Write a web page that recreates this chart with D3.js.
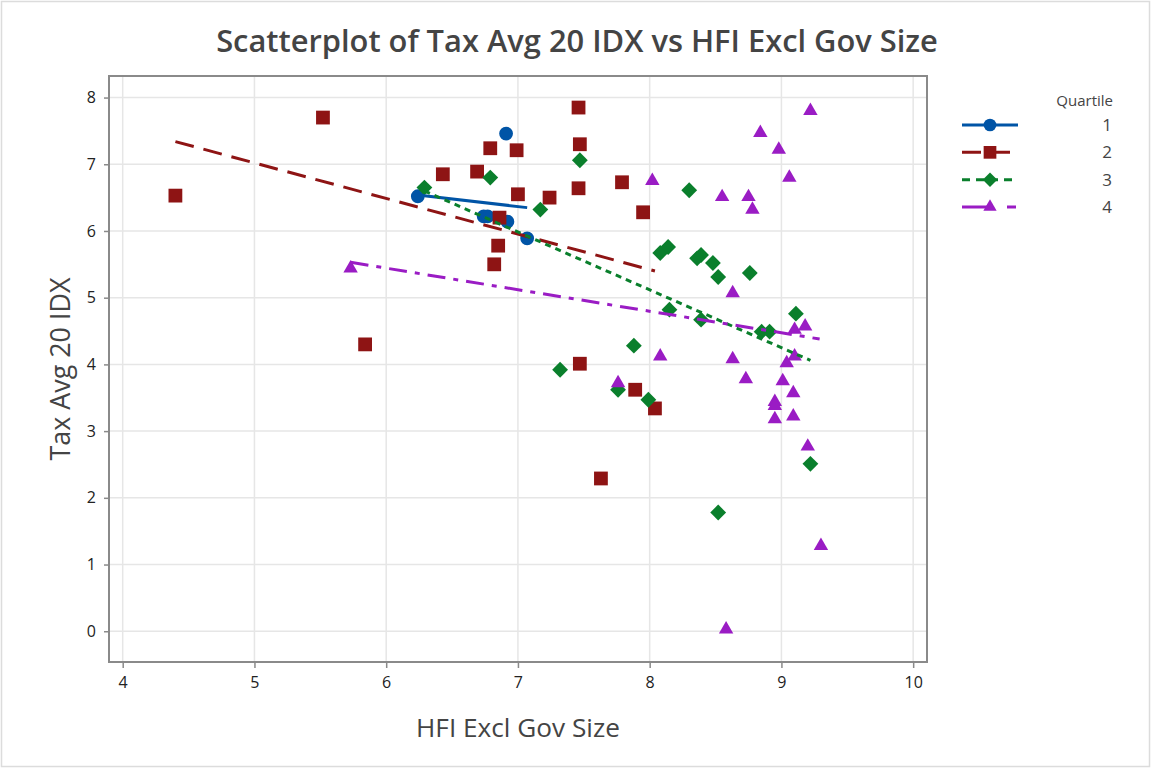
<!DOCTYPE html>
<html>
<head>
<meta charset="utf-8">
<script src="https://cdn.jsdelivr.net/npm/d3@7"></script>
<style>
  html, body { margin: 0; padding: 0; background: #fff; }
  svg { display: block; font-family: "Open Sans", "Noto Sans", sans-serif; }
</style>
</head>
<body>
<svg id="chart" width="1151" height="768"></svg>
<script>
// ---- Data ----
const quartiles = ["1", "2", "3", "4"];

const q1x = [6.24, 6.74, 6.77, 6.91, 6.92, 7.07];
const q1y = [6.52, 6.22, 6.22, 7.46, 6.14, 5.89];

const q2x = [4.40, 5.52, 5.84, 6.43, 6.69, 6.79, 6.99, 7.00, 7.24, 6.86, 6.85, 6.82, 7.46, 7.47, 7.46, 7.79, 7.95, 7.47, 7.89, 8.04, 7.63];
const q2y = [6.53, 7.70, 4.30, 6.85, 6.89, 7.24, 7.21, 6.55, 6.50, 6.20, 5.78, 5.50, 7.85, 7.30, 6.64, 6.73, 6.28, 4.01, 3.62, 3.34, 2.29];

const q3x = [6.29, 6.79, 7.17, 7.47, 8.30, 8.08, 8.14, 8.39, 8.36, 8.48, 8.52, 8.76, 8.15, 8.39, 8.85, 8.91, 9.11, 7.88, 7.32, 7.76, 7.99, 9.22, 8.52];
const q3y = [6.65, 6.80, 6.32, 7.06, 6.61, 5.67, 5.76, 5.64, 5.59, 5.52, 5.31, 5.37, 4.82, 4.67, 4.49, 4.49, 4.76, 4.28, 3.92, 3.62, 3.47, 2.51, 1.78];

const q4x = [5.73, 9.22, 8.84, 8.98, 9.06, 8.02, 8.55, 8.75, 8.78, 8.63, 9.10, 9.18, 9.10, 9.04, 8.08, 8.63, 8.73, 9.01, 9.09, 8.95, 8.95, 8.95, 9.09, 9.20, 9.30, 8.58, 7.76];
const q4y = [5.44, 7.80, 7.47, 7.22, 6.80, 6.75, 6.51, 6.51, 6.32, 5.07, 4.52, 4.57, 4.12, 4.02, 4.12, 4.08, 3.78, 3.75, 3.57, 3.44, 3.38, 3.18, 3.22, 2.77, 1.28, 0.03, 3.72];

// fitted regression lines per quartile: [xStart, yStart, xEnd, yEnd]
const fit1 = [6.24, 6.54, 7.07, 6.35];
const fit2 = [4.40, 7.34, 8.04, 5.40];
const fit3 = [6.29, 6.60, 9.22, 4.06];
const fit4 = [5.73, 5.53, 9.29, 4.38];

const xTicks = [4, 5, 6, 7, 8, 9, 10];
const yTicks = [0, 1, 2, 3, 4, 5, 6, 7, 8];

const titleText = "Scatterplot of Tax Avg 20 IDX vs HFI Excl Gov Size";
const xLabel = "HFI Excl Gov Size";
const yLabel = "Tax Avg 20 IDX";
const legendTitle = "Quartile";

// ---- Styling ----
const colors = ["#0054a6", "#8e1414", "#0a7f2c", "#9a1cc4"];
const dashes = [null, "19,10", "6,5", "18,8,5,8"];
const legendDashes = [null, "19,10", "8,6", "31,14,9,20"];
const symbols = [d3.symbolCircle, d3.symbolSquare, d3.symbolSquare, d3.symbolTriangle];
const symSizes = [150, 190, 125, 90];
const symRot = [0, 0, 45, 0];

const series = [
  { name: quartiles[0], xs: q1x, ys: q1y, fit: fit1 },
  { name: quartiles[1], xs: q2x, ys: q2y, fit: fit2 },
  { name: quartiles[2], xs: q3x, ys: q3y, fit: fit3 },
  { name: quartiles[3], xs: q4x, ys: q4y, fit: fit4 }
];

const svg = d3.select("#chart");
const W = 1151, H = 768;
const plot = { left: 109, right: 927, top: 76, bottom: 662 };

// outer frame
svg.append("rect").attr("x", 1.5).attr("y", 1.5).attr("width", W - 3).attr("height", H - 3)
  .attr("fill", "#fff").attr("stroke", "#dcdcdc").attr("stroke-width", 1.5);

const x = d3.scaleLinear().domain([3.896, 10.105]).range([plot.left, plot.right]);
const y = d3.scaleLinear().domain([-0.461, 8.323]).range([plot.bottom, plot.top]);

// gridlines
const grid = svg.append("g");
grid.selectAll("line.vx").data(xTicks).join("line")
  .attr("x1", d => x(d)).attr("x2", d => x(d))
  .attr("y1", plot.top).attr("y2", plot.bottom)
  .attr("stroke", "#e6e6e6").attr("stroke-width", 1.5);
grid.selectAll("line.hy").data(yTicks).join("line")
  .attr("x1", plot.left).attr("x2", plot.right)
  .attr("y1", d => y(d)).attr("y2", d => y(d))
  .attr("stroke", "#e6e6e6").attr("stroke-width", 1.5);

// axes
const xAxis = d3.axisBottom(x).tickValues(xTicks).tickSize(6).tickPadding(9).tickFormat(d3.format("d"));
const yAxis = d3.axisLeft(y).tickValues(yTicks).tickSize(5).tickPadding(8).tickFormat(d3.format("d"));

const gx = svg.append("g").attr("transform", `translate(0,${plot.bottom})`).call(xAxis);
const gy = svg.append("g").attr("transform", `translate(${plot.left},0)`).call(yAxis);
[gx, gy].forEach(g => {
  g.select(".domain").remove();
  g.selectAll(".tick line").attr("stroke", "#8a8a8a").attr("stroke-width", 1.5);
  g.selectAll(".tick text").attr("fill", "#222").style("font-size", "16px")
    .style("font-weight", "500")
    .style("font-family", "'Open Sans', sans-serif");
});

// plot frame
svg.append("rect").attr("x", plot.left).attr("y", plot.top)
  .attr("width", plot.right - plot.left).attr("height", plot.bottom - plot.top)
  .attr("fill", "none").attr("stroke", "#8a8a8a").attr("stroke-width", 2);

// clip for data
svg.append("clipPath").attr("id", "clip").append("rect")
  .attr("x", plot.left).attr("y", plot.top)
  .attr("width", plot.right - plot.left).attr("height", plot.bottom - plot.top);
const dataG = svg.append("g").attr("clip-path", "url(#clip)");

// points
series.forEach((s, i) => {
  const pts = s.xs.map((v, k) => [v, s.ys[k]]);
  const sym = d3.symbol().type(symbols[i]).size(symSizes[i]);
  dataG.append("g").selectAll("path").data(pts).join("path")
    .attr("d", sym)
    .attr("transform", d => `translate(${x(d[0])},${y(d[1])}) rotate(${symRot[i]})`)
    .attr("fill", colors[i]);
});

// fit lines
series.forEach((s, i) => {
  dataG.append("line")
    .attr("x1", x(s.fit[0])).attr("y1", y(s.fit[1]))
    .attr("x2", x(s.fit[2])).attr("y2", y(s.fit[3]))
    .attr("stroke", colors[i]).attr("stroke-width", 3)
    .attr("stroke-dasharray", dashes[i]);
});

// title
const title = svg.append("text").attr("x", 577).attr("y", 52).attr("text-anchor", "middle")
  .attr("fill", "#444").style("font-size", "27px").style("font-weight", "600").text(titleText);
const tw = title.node().getComputedTextLength();
title.style("font-size", (27 * 722 / tw).toFixed(2) + "px");

// axis labels
const xl = svg.append("text").attr("x", 518).attr("y", 737).attr("text-anchor", "middle")
  .attr("fill", "#444").style("font-size", "22px").style("font-weight", "500").text(xLabel);
const xlw = xl.node().getComputedTextLength();
xl.style("font-size", (22 * 204 / xlw).toFixed(2) + "px");

const yl = svg.append("text").attr("transform", "translate(70,369) rotate(-90)").attr("text-anchor", "middle")
  .attr("fill", "#444").style("font-size", "22px").style("font-weight", "500").text(yLabel);
const ylw = yl.node().getComputedTextLength();
yl.style("font-size", (22 * 183 / ylw).toFixed(2) + "px");

// legend
const lg = svg.append("g");
lg.append("text").attr("x", 1113).attr("y", 106).attr("text-anchor", "end")
  .attr("fill", "#444").style("font-size", "15px").style("font-weight", "500").text(legendTitle);
const rowY = d3.scalePoint().domain(quartiles).range([125, 207]);
series.forEach((s, i) => {
  const yy = rowY(s.name);
  lg.append("line").attr("x1", 962).attr("x2", 1018).attr("y1", yy).attr("y2", yy)
    .attr("stroke", colors[i]).attr("stroke-width", 3).attr("stroke-dasharray", legendDashes[i]);
  lg.append("path").attr("d", d3.symbol().type(symbols[i]).size(symSizes[i] * 0.85))
    .attr("transform", `translate(990,${yy}) rotate(${symRot[i]})`).attr("fill", colors[i]);
  lg.append("text").attr("x", 1112).attr("y", yy + 6).attr("text-anchor", "end")
    .attr("fill", "#444").style("font-size", "17px").text(s.name);
});
</script>
</body>
</html>
